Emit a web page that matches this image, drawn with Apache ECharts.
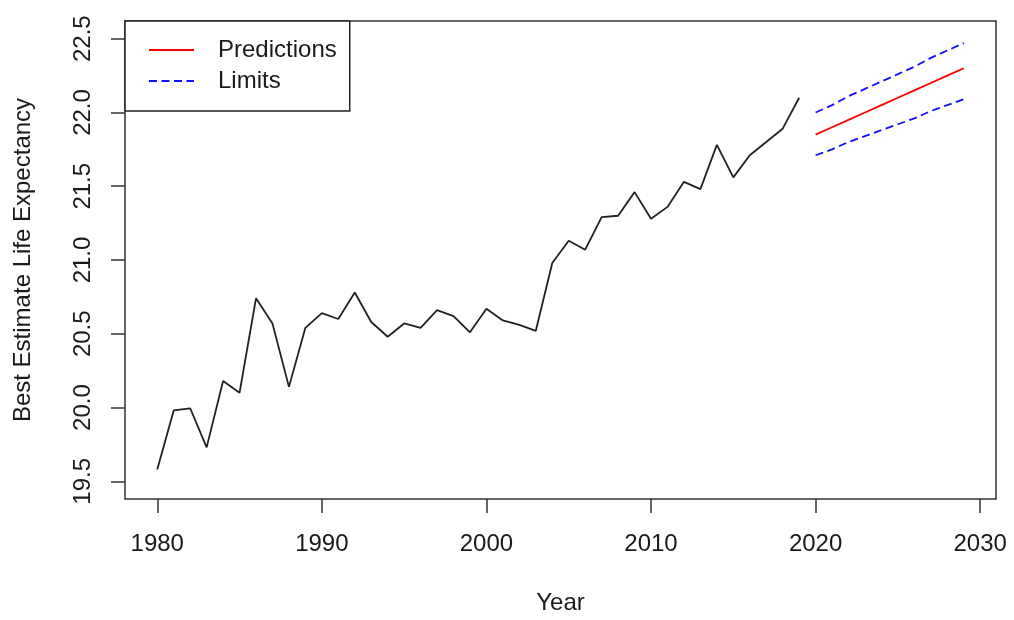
<!DOCTYPE html>
<html>
<head>
<meta charset="utf-8">
<script src="https://cdn.jsdelivr.net/npm/echarts@6/dist/echarts.min.js"></script>
<style>
html,body{margin:0;padding:0;background:#fff;}
#chart{width:1014px;height:620px;}
</style>
</head>
<body>
<div id="chart"></div>
<script>
const years = [1980,1981,1982,1983,1984,1985,1986,1987,1988,1989,1990,1991,1992,1993,1994,1995,1996,1997,1998,1999,2000,2001,2002,2003,2004,2005,2006,2007,2008,2009,2010,2011,2012,2013,2014,2015,2016,2017,2018,2019];
const observed = [19.58,19.98,19.995,19.73,20.18,20.10,20.74,20.57,20.14,20.54,20.64,20.60,20.78,20.58,20.48,20.57,20.54,20.66,20.62,20.51,20.67,20.59,20.56,20.52,20.98,21.13,21.07,21.29,21.30,21.46,21.28,21.36,21.53,21.48,21.78,21.56,21.71,21.80,21.89,22.10];
const predYears = [2020,2021,2022,2023,2024,2025,2026,2027,2028,2029];
const predictions = [21.85,21.90,21.95,22.00,22.05,22.10,22.15,22.20,22.25,22.30];
const upperLimit = [22.00,22.05,22.11,22.16,22.21,22.26,22.31,22.37,22.42,22.47];
const lowerLimit = [21.71,21.75,21.80,21.84,21.88,21.92,21.96,22.01,22.05,22.09];
const xTicks = [1980,1990,2000,2010,2020,2030];
const yTicks = [19.5,20.0,20.5,21.0,21.5,22.0,22.5];

const pair = (xs, ys) => xs.map((x, i) => [x, ys[i]]);
const FONT = "'Liberation Sans', Arial, sans-serif";
const TXT = '#1a1a1a';

const chart = echarts.init(document.getElementById('chart'), null, {renderer: 'canvas'});
chart.setOption({
  animation: false,
  backgroundColor: '#ffffff',
  grid: {left: 125, top: 21, right: 18, bottom: 121, show: true, borderColor: '#333', borderWidth: 1.5, backgroundColor: 'transparent'},
  legend: {
    data: ['Predictions', 'Limits'],
    orient: 'vertical',
    left: 125, top: 21,
    backgroundColor: '#fff',
    borderColor: '#222', borderWidth: 1.5,
    padding: [17, 13, 18, 23],
    itemWidth: 45, itemHeight: 14, itemGap: 7,
    itemStyle: {opacity: 0},
    textStyle: {fontFamily: FONT, fontSize: 24, color: TXT, padding: [0, 0, 0, 19]}
  },
  xAxis: {
    type: 'value', min: 1978.04, max: 2030.96,
    name: 'Year', nameLocation: 'middle', nameGap: 92,
    nameTextStyle: {fontFamily: FONT, fontSize: 24, color: TXT},
    axisLine: {show: false},
    axisTick: {show: true, length: 14, customValues: xTicks, lineStyle: {color: '#333', width: 1.5}},
    axisLabel: {customValues: xTicks, margin: 33, fontFamily: FONT, fontSize: 24, color: TXT,
      formatter: v => String(v)},
    splitLine: {show: false}
  },
  yAxis: {
    type: 'value', min: 19.38, max: 22.62,
    name: 'Best Estimate Life Expectancy', nameLocation: 'middle', nameGap: 90,
    nameTextStyle: {fontFamily: FONT, fontSize: 24, color: TXT},
    axisLine: {show: false},
    axisTick: {show: true, length: 14, customValues: yTicks, lineStyle: {color: '#333', width: 1.5}},
    axisLabel: {customValues: yTicks, rotate: 90, margin: 30, fontFamily: FONT, fontSize: 24, color: TXT,
      formatter: v => v.toFixed(1)},
    splitLine: {show: false}
  },
  series: [
    {name: 'Observed', type: 'line', data: pair(years, observed), symbol: 'none',
      lineStyle: {color: '#222', width: 1.8}, itemStyle: {color: '#222'}},
    {name: 'Predictions', type: 'line', data: pair(predYears, predictions), symbol: 'none',
      lineStyle: {color: '#ff0000', width: 1.8}, itemStyle: {color: '#ff0000'}},
    {name: 'Limits', type: 'line', data: pair(predYears, upperLimit), symbol: 'none',
      lineStyle: {color: '#1010ff', width: 1.8, type: [8, 4.5]}, itemStyle: {color: '#1010ff'}},
    {name: 'Limits', type: 'line', data: pair(predYears, lowerLimit), symbol: 'none',
      lineStyle: {color: '#1010ff', width: 1.8, type: [8, 4.5]}, itemStyle: {color: '#1010ff'}}
  ]
});
</script>
</body>
</html>
